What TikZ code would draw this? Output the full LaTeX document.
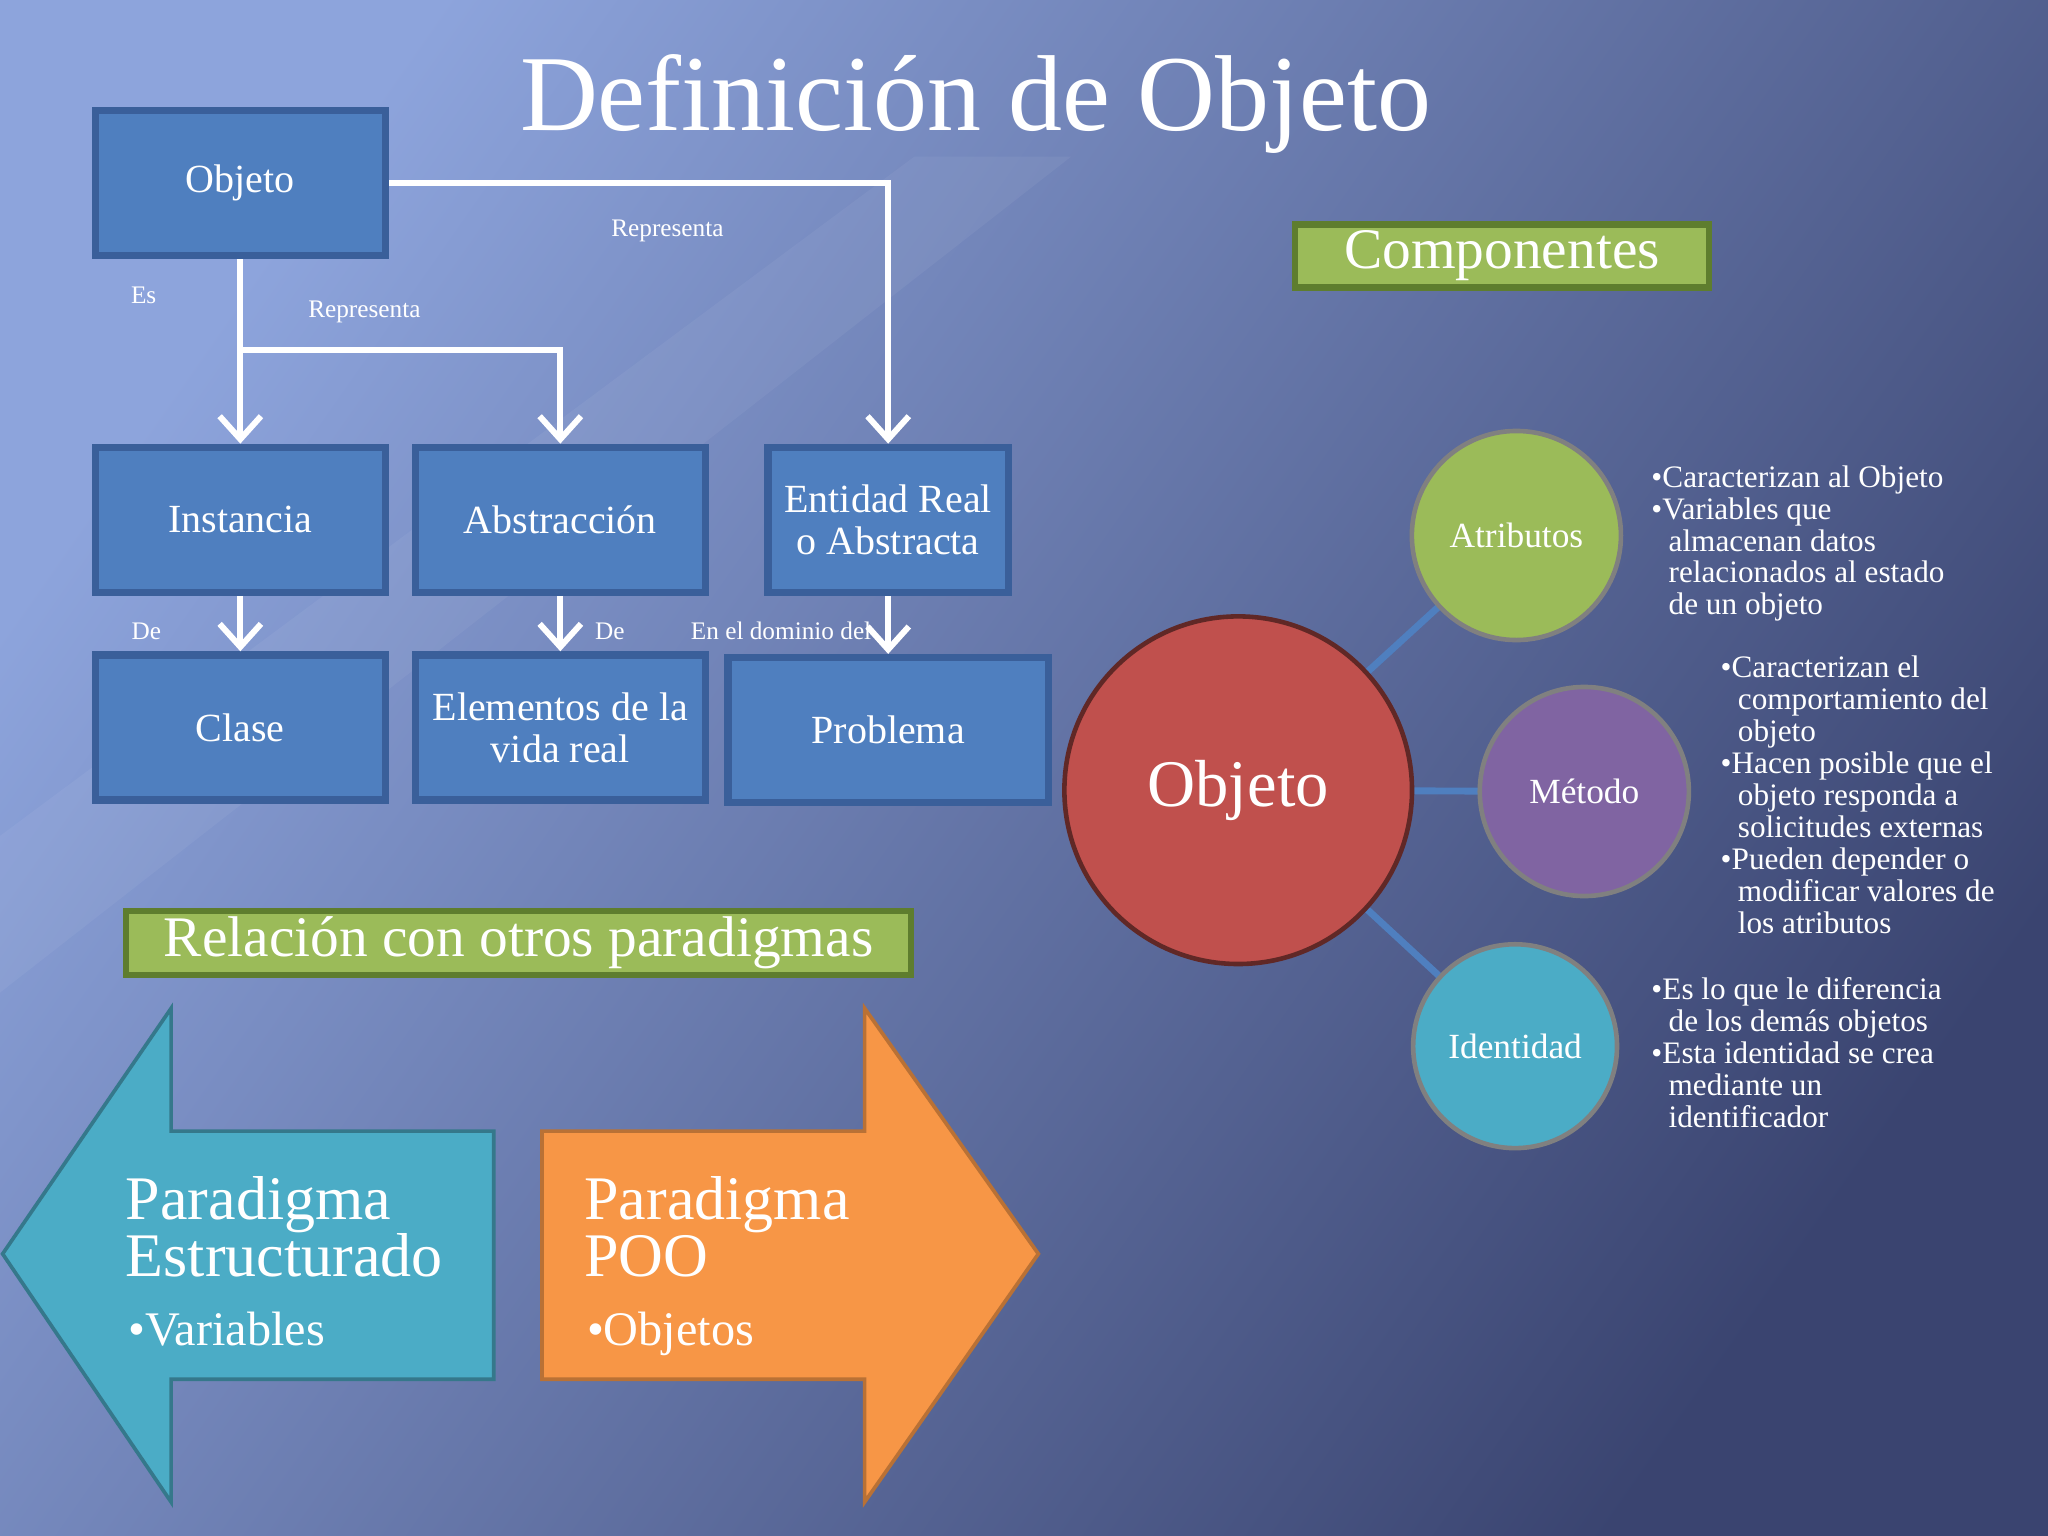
\documentclass[tikz,border=0pt]{standalone}
\usepackage{fontspec}
\setmainfont{Liberation Serif}
\usetikzlibrary{arrows.meta,shadings}
\definecolor{boxblue}{HTML}{4F7FBF}
\definecolor{boxedge}{HTML}{3A5F9A}
\definecolor{grn}{HTML}{9BBB59}
\definecolor{grnedge}{HTML}{5E7D2E}
\definecolor{redc}{HTML}{C0504D}
\definecolor{purc}{HTML}{8064A2}
\definecolor{cyanc}{HTML}{4BACC6}
\definecolor{orgc}{HTML}{F79646}
\definecolor{bgtl}{HTML}{8DA4DC}
\definecolor{bgbr}{HTML}{3A4470}
\tikzset{
 bx/.style={draw=boxedge,line width=1.6pt,fill=boxblue,text=white,align=center,inner sep=1pt,font=\fontsize{8.7}{9.2}\selectfont},
 gbx/.style={draw=grnedge,line width=1.4pt,fill=grn,text=white,inner sep=1pt,font=\fontsize{12.5}{14}\selectfont},
 arr/.style={white,line width=1.3pt,-{Straight Barb[length=5pt,width=9pt,line width=1.3pt]}},
 lbl/.style={text=white,font=\fontsize{5.5}{7}\selectfont},
 circ/.style={circle,draw=black!50,line width=1pt,text=white,inner sep=0pt},
 bul/.style={text=white,align=left,anchor=north west,font=\fontsize{6.8}{6.95}\selectfont},
}
\begin{document}
\begin{tikzpicture}[x=0.01cm,y=-0.01cm]
\shade[top color=bgtl,bottom color=bgbr,shading angle=55] (0,0) rectangle (1568,1176);
\fill[white,opacity=0.05] (0,640) -- (700,120) -- (820,120) -- (0,760) -- cycle;
\useasboundingbox (0,0) rectangle (1568,1176);
\node[text=white,font=\fontsize{23.5}{27}\selectfont] (title) at (747,80) {Definición de Objeto};
% boxes
\node[bx,minimum width=2.22cm,minimum height=1.11cm] (obj) at (184,140) {Objeto};
\node[bx,minimum width=2.22cm,minimum height=1.11cm] (ins) at (184,398) {Instancia};
\node[bx,minimum width=2.22cm,minimum height=1.11cm] (abs) at (429,398) {Abstracción};
\node[bx,minimum width=1.84cm,minimum height=1.11cm] (ent) at (680,398) {Entidad Real\\o Abstracta};
\node[bx,minimum width=2.22cm,minimum height=1.11cm] (cla) at (184,557) {Clase};
\node[bx,minimum width=2.22cm,minimum height=1.11cm] (ele) at (429,557) {Elementos de la\\vida real};
\node[bx,minimum width=2.45cm,minimum height=1.11cm] (pro) at (680,559) {Problema};
\coordinate (br) at (184,268);
\draw[arr] (obj.south) -- (ins.north);
\draw[arr] (br) -| (abs.north);
\draw[arr] (obj.east) -| (ent.north);
\draw[arr] (ins.south) -- (cla.north);
\draw[arr] (abs.south) -- (ele.north);
\draw[arr] (ent.south) -- (pro.north);
\node[lbl] (l1) at (110,226) {Es};
\node[lbl] (l2) at (279,239) {Representa};
\node[lbl] (l3) at (511,177) {Representa};
\node[lbl] (l4) at (112,483) {De};
\node[lbl] (l5) at (467,483) {De};
\node[lbl] (l6) at (598,483) {En el dominio del};
% green headers
\node[gbx,minimum width=3.17cm,minimum height=0.48cm] (comp) at (1150,196) {Componentes};
\node[gbx,minimum width=6.01cm,minimum height=0.49cm] (rel) at (397,722) {Relación con otros paradigmas};
% circles
\coordinate (oc) at (948,605);
\draw[boxblue,line width=1.5pt] (oc) -- (1161,410);
\draw[boxblue,line width=1.5pt] (oc) -- (1213,606);
\draw[boxblue,line width=1.5pt] (oc) -- (1160,801);
\node[circ,fill=redc,draw=redc!50!black,minimum size=2.66cm,font=\fontsize{14.5}{16}\selectfont] (o) at (oc) {Objeto};
\node[circ,fill=grn,minimum size=1.6cm,font=\fontsize{7.7}{9}\selectfont] (at) at (1161,410) {Atributos};
\node[circ,fill=purc,minimum size=1.6cm,font=\fontsize{7.7}{9}\selectfont] (me) at (1213,606) {Método};
\node[circ,fill=cyanc,minimum size=1.56cm,font=\fontsize{7.7}{9}\selectfont] (id) at (1160,801) {Identidad};
\node[bul] (b1) at (1252,344) {•Caracterizan al Objeto\\•Variables que\\\hspace*{0.55em}almacenan datos\\\hspace*{0.55em}relacionados al estado\\\hspace*{0.55em}de un objeto};
\node[bul] (b2) at (1305,490) {•Caracterizan el\\\hspace*{0.55em}comportamiento del\\\hspace*{0.55em}objeto\\•Hacen posible que el\\\hspace*{0.55em}objeto responda a\\\hspace*{0.55em}solicitudes externas\\•Pueden depender o\\\hspace*{0.55em}modificar valores de\\\hspace*{0.55em}los atributos};
\node[bul] (b3) at (1252,736) {•Es lo que le diferencia\\\hspace*{0.55em}de los demás objetos\\•Esta identidad se crea\\\hspace*{0.55em}mediante un\\\hspace*{0.55em}identificador};
% big arrows
\filldraw[fill=cyanc,draw=cyanc!70!black,line width=0.8pt] (2,960) -- (131,772) -- (131,866) -- (378,866) -- (378,1056) -- (131,1056) -- (131,1150) -- cycle;
\filldraw[fill=orgc,draw=orgc!75!black,line width=0.8pt] (415,866) -- (662,866) -- (662,772) -- (795,960) -- (662,1150) -- (662,1056) -- (415,1056) -- cycle;
\node[text=white,align=left,anchor=north west,font=\fontsize{13.5}{12.5}\selectfont] (p1) at (84,888) {Paradigma\\Estructurado};
\node[text=white,anchor=north west,font=\fontsize{10.5}{12}\selectfont] (v1) at (86,992) {•Variables};
\node[text=white,align=left,anchor=north west,font=\fontsize{13.5}{12.5}\selectfont] (p2) at (435,888) {Paradigma\\POO};
\node[text=white,anchor=north west,font=\fontsize{10.5}{12}\selectfont] (v2) at (437,992) {•Objetos};
\end{tikzpicture}
\end{document}
